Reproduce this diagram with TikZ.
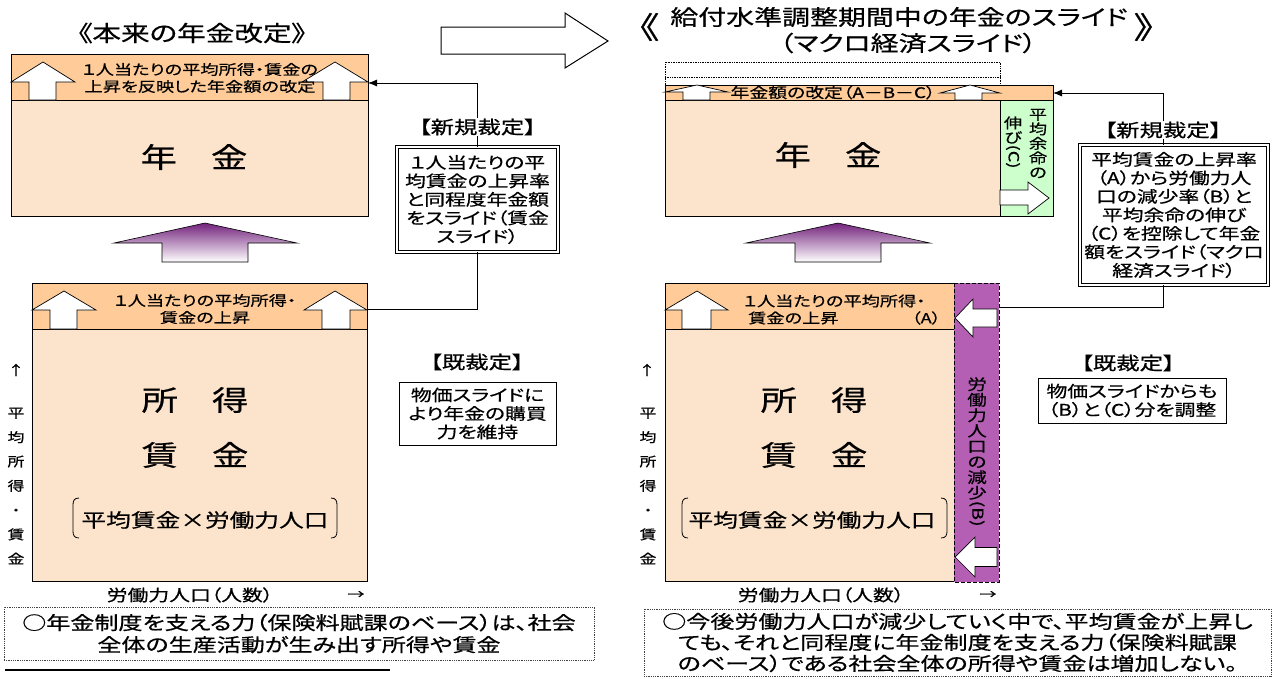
\documentclass[tikz,border=0pt]{standalone}
\usepackage{fontspec}
\setmainfont{Noto Sans CJK JP}[FakeStretch=1.3,FakeBold=0.6,RawFeature=+palt]
\usepackage{graphicx}
\usetikzlibrary{arrows.meta}
\definecolor{hdr}{RGB}{255,204,153}
\definecolor{bodyc}{RGB}{252,228,204}
\definecolor{grn}{RGB}{204,255,204}
\definecolor{pur}{RGB}{180,95,180}
\definecolor{dpur}{RGB}{115,35,125}
\newcommand\fz[2]{\fontsize{#1}{#2}\selectfont}
% tipx tipy headbase headL headR shaftL shaftR bottom
\newcommand\uparr[8]{\draw[warrow] (#6,#8) -- (#6,#3) -- (#4,#3) -- (#1,#2) -- (#5,#3) -- (#7,#3) -- (#7,#8) -- cycle;}
% tipx tipy headbasex halfhead halfshaft rightx
\newcommand\lftarr[6]{\draw[warrow] (#6,#2-#5) -- (#3,#2-#5) -- (#3,#2-#4) -- (#1,#2) -- (#3,#2+#4) -- (#3,#2+#5) -- (#6,#2+#5) -- cycle;}
\begin{document}
\begin{tikzpicture}[x=1pt,y=-1pt,
  warrow/.style={draw=black,fill=white,line width=0.7pt},
  blk/.style={draw=black,line width=0.8pt},
  txt/.style={inner sep=0pt,align=center},
  dbox/.style={draw=black,double,double distance=1.6pt,line width=0.8pt,fill=white,inner sep=0pt,align=center},
  sbox/.style={draw=black,line width=0.8pt,fill=white,inner sep=0pt,align=center},
  notebox/.style={draw=black!75,densely dotted,line width=0.8pt,inner sep=0pt,align=center},
  conn/.style={draw=black,line width=0.8pt},
  cta/.style={-{Latex[length=9pt,width=7pt]}},
  padd/.style={top color=dpur,bottom color=white,draw=black,line width=0.6pt}
]
\useasboundingbox[fill=white] (0,0) rectangle (1273,678);

% ---------- titles ----------
\node[txt,font=\fz{22}{26}] (titleL) at (192,33) {《本来の年金改定》};
\node[txt,font=\fz{21.5}{26}] (titleR1) at (899,17) {給付水準調整期間中の年金のスライド};
\node[txt,font=\fz{21.5}{26}] (titleR2) at (908,43) {（マクロ経済スライド）};
\node[txt,font=\fz{30}{30}] (brL) at (649,27) {《};
\node[txt,font=\fz{30}{30}] (brR) at (1144,27) {》};

% big hollow arrow
\draw[warrow,line width=1pt] (441,27) -- (565,27) -- (565,13) -- (608,41) -- (565,68) -- (565,54) -- (441,54) -- cycle;

% ---------- LEFT: pension box ----------
\fill[bodyc] (11,100) rectangle (368,216);
\fill[hdr] (11,54) rectangle (368,100);
\draw[line width=0.5pt] (11,100) -- (368,100);
\draw[blk] (11,54) rectangle (368,216);
\uparr{43}{62}{82}{11}{75}{29}{56}{100}
\uparr{335}{62}{82}{302}{368}{323}{350}{100}
\node[txt,font=\fz{14}{17}] (hdrL) at (200,78) {１人当たりの平均所得・賃金の\\上昇を反映した年金額の改定};
\node[txt,font=\fz{28}{28}] (nenkinL) at (194,157) {年\hspace{34pt}金};

\shadedraw[padd] (162,262) -- (162,243) -- (114,243) -- (205,223) -- (297,243) -- (248,243) -- (248,262) -- cycle;

% ---------- LEFT: income box ----------
\fill[bodyc] (32,329) rectangle (367,581);
\fill[hdr] (32,283) rectangle (367,329);
\draw[line width=0.5pt] (32,329) -- (367,329);
\draw[blk] (32,283) rectangle (367,581);
\uparr{64}{291}{310}{32}{96}{50}{77}{329}
\uparr{335}{291}{310}{304}{367}{322}{350}{329}
\node[txt,font=\fz{14}{17}] (hdrL2) at (205,309) {１人当たりの平均所得・\\賃金の上昇};
\node[txt,font=\fz{28}{28}] (shotokuL) at (195,400) {所\hspace{34pt}得};
\node[txt,font=\fz{28}{28}] (chinginL) at (195,455) {賃\hspace{34pt}金};
\node[txt,font=\fz{19}{19}] (formL) at (205,520) {平均賃金×労働力人口};
\draw[line width=0.8pt] (79,498) .. controls (74,498) and (73,501) .. (73,505) -- (73,531) .. controls (73,535) and (74,538) .. (79,538);
\draw[line width=0.8pt] (331,498) .. controls (336,498) and (337,501) .. (337,505) -- (337,531) .. controls (337,535) and (336,538) .. (331,538);

\node[txt,font=\fz{13}{13}] (upL) at (16,370) {↑};
\node[txt,font=\fz{13}{24.3}] (axL) at (16,486) {平\\均\\所\\得\\・\\賃\\金};
\node[txt,font=\fz{16}{16}] (xaxL) at (190,595) {労働力人口（人数）};
\node[txt,font=\fz{13}{13}] (rtL) at (356,595) {→};

\node[notebox,font=\fz{18.5}{22},minimum width=590pt,minimum height=53pt] (noteL) at (299,633.5) {○年金制度を支える力（保険料賦課のベース）は、社会\\全体の生産活動が生み出す所得や賃金};
\draw[line width=2.2pt] (5,670) -- (390,670);

% ---------- LEFT: labels, boxes, connectors ----------
\node[txt,font=\fz{18}{18}] (newL) at (477.5,127) {【新規裁定】};
\node[dbox,font=\fz{16}{18.5},minimum width=161pt,minimum height=105pt] (newLbox) at (477.5,199.5) {１人当たりの平\\均賃金の上昇率\\と同程度年金額\\をスライド（賃金\\スライド）};
\node[txt,font=\fz{18}{18}] (oldL) at (477,362) {【既裁定】};
\node[sbox,font=\fz{16}{18.5},minimum width=157pt,minimum height=63pt] (oldLbox) at (477.5,413.5) {物価スライドに\\より年金の購買\\力を維持};
\coordinate (Ltop) at (368,83);
\coordinate (Lbot) at (367,309);
\draw[conn,cta] (newL.north) |- (Ltop);
\draw[conn] (newL.south) -- (newLbox.north);
\draw[conn] (newLbox.south) |- (Lbot);

% ---------- RIGHT: pension box ----------
\draw[densely dotted,line width=0.7pt] (665,85) -- (665,62) -- (1000,62) -- (1000,85);
\draw[densely dotted,line width=0.7pt] (665,77) -- (1000,77);
\fill[bodyc] (665,100) rectangle (1000,216);
\draw[blk] (665,100) rectangle (1000,216);
\fill[grn] (1000,100) rectangle (1053,216);
\draw[blk] (1000,100) rectangle (1053,216);
\fill[hdr] (665,85) rectangle (1053,100);
\draw[blk] (665,85) rectangle (1053,100);
\uparr{697}{85}{92}{665}{728}{683}{710}{100}
\uparr{970}{85}{93}{940}{1000}{955}{982}{100}
\node[txt,font=\fz{14.5}{15}] (hdrR) at (833,92.5) {年金額の改定（A－B－C）};
\node[txt,font=\fz{28}{28}] (nenkinR) at (828,155) {年\hspace{34pt}金};
\node[txt,font=\fz{14}{14.5}] (grnA) at (1038,143.5) {平\\均\\余\\命\\の};
\node[txt,font=\fz{14}{14.5}] (grnB) at (1013,142.5) {伸\\び\\\rotatebox[origin=c]{-90}{(C)}};
\draw[warrow] (1000,190) -- (1028,190) -- (1028,182) -- (1049,198) -- (1028,214) -- (1028,205) -- (1000,205) -- cycle;

\shadedraw[padd] (795,262) -- (795,243) -- (746,243) -- (838,223) -- (930,243) -- (881,243) -- (881,262) -- cycle;

% ---------- RIGHT: income box ----------
\fill[hdr] (665,283) rectangle (954,329);
\fill[bodyc] (665,329) rectangle (954,581);
\draw[line width=0.5pt] (665,329) -- (954,329);
\draw[blk] (954,283) -- (665,283) -- (665,581) -- (954,581);
\fill[pur] (954,283) rectangle (999,582);
\draw[dashed,dash pattern=on 4pt off 2pt,line width=0.8pt] (954,283) rectangle (999,582);
\uparr{697}{291}{310}{665}{728}{682}{711}{329}
\lftarr{955}{318}{973}{19}{9}{997}
\lftarr{955}{557}{975}{20}{9.5}{997}
\node[txt,font=\fz{14}{17},anchor=west] (hdrR1) at (743,301) {１人当たりの平均所得・};
\node[txt,font=\fz{14}{17},anchor=west] (hdrR2) at (748,318) {賃金の上昇};
\node[txt,font=\fz{14}{17},anchor=east] (hdrR3) at (941,318) {（A）};
\node[txt,font=\fz{15}{15.5}] (purV) at (977,452) {労\\働\\力\\人\\口\\の\\減\\少\\\rotatebox[origin=c]{-90}{(B)}};
\node[txt,font=\fz{28}{28}] (shotokuR) at (814,400) {所\hspace{34pt}得};
\node[txt,font=\fz{28}{28}] (chinginR) at (814,455) {賃\hspace{34pt}金};
\node[txt,font=\fz{19}{19}] (formR) at (812,520) {平均賃金×労働力人口};
\draw[line width=0.8pt] (688,498) .. controls (683,498) and (682,501) .. (682,505) -- (682,531) .. controls (682,535) and (683,538) .. (688,538);
\draw[line width=0.8pt] (941,498) .. controls (946,498) and (947,501) .. (947,505) -- (947,531) .. controls (947,535) and (946,538) .. (941,538);

\node[txt,font=\fz{13}{13}] (upR) at (647,370) {↑};
\node[txt,font=\fz{13}{24.3}] (axR) at (648,486) {平\\均\\所\\得\\・\\賃\\金};
\node[txt,font=\fz{16}{16}] (xaxR) at (821,595) {労働力人口（人数）};
\node[txt,font=\fz{13}{13}] (rtR) at (988,595) {→};

\node[notebox,font=\fz{18.5}{21},minimum width=627pt,minimum height=67pt] (noteR) at (957.5,642.5) {○今後労働力人口が減少していく中で、平均賃金が上昇し\\ても、それと同程度に年金制度を支える力（保険料賦課\\のベース）である社会全体の所得や賃金は増加しない。};

% ---------- RIGHT: labels, boxes, connectors ----------
\node[txt,font=\fz{18}{18}] (newR) at (1163,130) {【新規裁定】};
\node[dbox,font=\fz{16}{18.5},minimum width=188pt,minimum height=140pt] (newRbox) at (1174,215) {平均賃金の上昇率\\（A）から労働力人\\口の減少率（B）と\\平均余命の伸び\\（C）を控除して年金\\額をスライド（マクロ\\経済スライド）};
\node[txt,font=\fz{18}{18}] (oldR) at (1128,363) {【既裁定】};
\node[sbox,font=\fz{16}{18.5},minimum width=188pt,minimum height=45pt] (oldRbox) at (1132,400.5) {物価スライドからも\\（B）と（C）分を調整};
\coordinate (Rtop) at (1053,93);
\coordinate (Rbot) at (999,307);
\draw[conn,cta] (newR.north) |- (Rtop);
\draw[conn] (newR.south) -- (newR.south |- newRbox.north);
\draw[conn] (newR.south |- newRbox.south) |- (Rbot);
\end{tikzpicture}
\end{document}
